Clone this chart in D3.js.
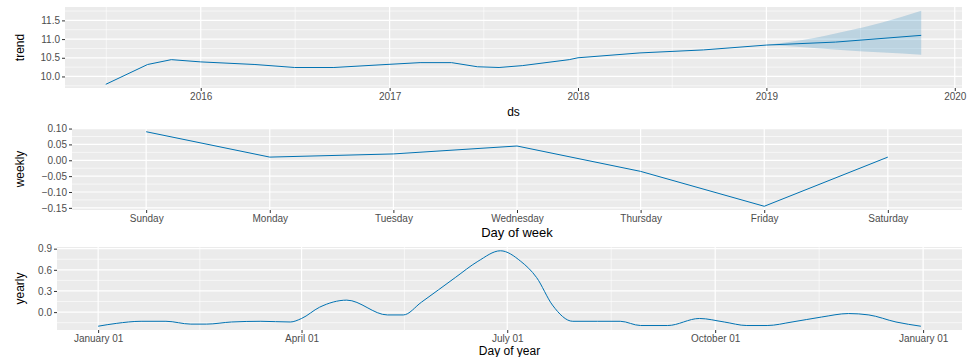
<!DOCTYPE html>
<html>
<head>
<meta charset="utf-8">
<script src="https://cdn.jsdelivr.net/npm/d3@7"></script>
<style>
  body { margin: 0; background: #fff; }
  svg text { font-family: "Liberation Sans", Arial, sans-serif; }
</style>
</head>
<body>
<svg id="chart" width="972" height="357"></svg>
<script>
// trend component (history + forecast)
const trendDates = ['2015-07-01', '2015-09-20', '2015-11-05', '2016-01-01', '2016-04-15', '2016-07-01',
  '2016-09-15', '2016-12-25', '2017-03-01', '2017-05-01', '2017-06-20', '2017-08-01', '2017-09-15',
  '2017-12-15', '2018-01-01', '2018-05-01', '2018-09-01', '2019-01-01', '2019-05-15', '2019-10-28']
const trendValues = [9.79, 10.32, 10.45, 10.39, 10.32, 10.24, 10.24, 10.32, 10.37, 10.37, 10.26, 10.24,
  10.29, 10.45, 10.5, 10.63, 10.71, 10.84, 10.92, 11.1]
// uncertainty interval of the forecast part
const bandDates = ['2019-01-01', '2019-03-15', '2019-06-01', '2019-08-15', '2019-10-28']
const bandUpper = [10.84, 10.98, 11.2, 11.45, 11.76]
const bandLower = [10.84, 10.78, 10.7, 10.64, 10.58]
const trendTicks = ['2016-01-01', '2017-01-01', '2018-01-01', '2019-01-01', '2020-01-01']
const trendYTicks = [10.0, 10.5, 11.0, 11.5]

// weekly component
const weekDays = ['Sunday', 'Monday', 'Tuesday', 'Wednesday', 'Thursday', 'Friday', 'Saturday']
const weeklyValues = [0.09, 0.01, 0.02, 0.045, -0.035, -0.145, 0.01]
const weeklyYTicks = [-0.15, -0.10, -0.05, 0.00, 0.05, 0.10]

// yearly component
const yearlyDates = ['2017-01-01', '2017-01-09', '2017-01-20', '2017-01-31', '2017-02-11', '2017-02-18',
  '2017-03-01', '2017-03-14', '2017-03-27', '2017-04-01', '2017-04-09', '2017-04-21', '2017-05-09',
  '2017-05-16', '2017-05-24', '2017-06-08', '2017-06-18', '2017-06-28', '2017-07-07', '2017-07-14',
  '2017-07-21', '2017-07-30', '2017-08-10', '2017-08-20', '2017-08-29', '2017-09-10', '2017-09-24',
  '2017-10-05', '2017-10-15', '2017-10-24', '2017-11-04', '2017-11-17', '2017-11-29', '2017-12-08',
  '2017-12-20', '2017-12-31']
const yearlyValues = [-0.2, -0.16, -0.13, -0.13, -0.17, -0.17, -0.14, -0.13, -0.14, -0.09, 0.07, 0.17,
  -0.04, -0.04, 0.14, 0.49, 0.72, 0.87, 0.72, 0.49, 0.1, -0.13, -0.13, -0.13, -0.19, -0.19, -0.09,
  -0.14, -0.19, -0.19, -0.14, -0.07, -0.02, -0.04, -0.14, -0.2]
const yearlyTicks = ['2017-01-01', '2017-04-01', '2017-07-01', '2017-10-01', '2018-01-01']
const yearlyYTicks = [0.0, 0.3, 0.6, 0.9]

const parse = d3.timeParse('%Y-%m-%d')
const svg = d3.select('#chart')
const BLUE = '#0072B2'

// ggplot style 5% expansion (works for numbers and dates)
function expand (ext, mult) {
  const lo = +ext[0], hi = +ext[1]
  const pad = (hi - lo) * mult
  return [lo - pad, hi + pad]
}

function midpoints (vals) {
  const out = []
  for (let i = 0; i < vals.length - 1; i++) out.push((+vals[i] + +vals[i + 1]) / 2)
  return out
}

function panelBase (box) {
  const g = svg.append('g')
  g.append('rect').attr('x', box.left).attr('y', box.top)
    .attr('width', box.right - box.left).attr('height', box.bottom - box.top)
    .attr('fill', '#EBEBEB')
  return g
}

function hGrid (g, box, y, major, minor) {
  g.selectAll(null).data(minor.filter(v => y(v) > box.top && y(v) < box.bottom)).enter().append('line')
    .attr('x1', box.left).attr('x2', box.right).attr('y1', d => y(d)).attr('y2', d => y(d))
    .attr('stroke', '#fff').attr('stroke-width', 0.6)
  g.selectAll(null).data(major).enter().append('line')
    .attr('x1', box.left).attr('x2', box.right).attr('y1', d => y(d)).attr('y2', d => y(d))
    .attr('stroke', '#fff').attr('stroke-width', 1.2)
}

function vGrid (g, box, x, major, minor) {
  g.selectAll(null).data(minor.filter(v => x(v) > box.left && x(v) < box.right)).enter().append('line')
    .attr('y1', box.top).attr('y2', box.bottom).attr('x1', d => x(d)).attr('x2', d => x(d))
    .attr('stroke', '#fff').attr('stroke-width', 0.6)
  g.selectAll(null).data(major.filter(v => x(v) >= box.left && x(v) <= box.right)).enter().append('line')
    .attr('y1', box.top).attr('y2', box.bottom).attr('x1', d => x(d)).attr('x2', d => x(d))
    .attr('stroke', '#fff').attr('stroke-width', 1.2)
}

function axes (box, x, y, xTicks, yTicks, xFmt, yFmt, xTitle, yTitle, titleY, titleSize) {
  const ya = svg.append('g').attr('transform', 'translate(' + box.left + ',0)')
    .call(d3.axisLeft(y).tickValues(yTicks).tickFormat(yFmt).tickSize(3).tickPadding(2))
  const xa = svg.append('g').attr('transform', 'translate(0,' + box.bottom + ')')
    .call(d3.axisBottom(x).tickValues(xTicks).tickFormat(xFmt).tickSize(3).tickPadding(2))
  ;[ya, xa].forEach(a => {
    a.select('.domain').remove()
    a.selectAll('.tick line').attr('stroke', '#333')
    a.selectAll('.tick text').attr('fill', '#4D4D4D').style('font-size', '10px')
  })
  svg.append('text').attr('x', (box.left + box.right) / 2).attr('y', titleY)
    .attr('text-anchor', 'middle').style('font-size', titleSize).attr('fill', '#000').text(xTitle)
  svg.append('text').attr('transform', 'translate(' + 24 + ',' + (box.top + box.bottom) / 2 + ') rotate(-90)')
    .attr('text-anchor', 'middle').style('font-size', '12px').attr('fill', '#000').text(yTitle)
}

/* Panel 1 : trend (piecewise linear) */
{
  const box = { left: 65, right: 962, top: 7, bottom: 88 }
  const dates = trendDates.map(parse)
  const x = d3.scaleTime().domain(expand(d3.extent(dates), 0.05)).range([box.left, box.right])
  const y = d3.scaleLinear()
    .domain(expand([d3.min(trendValues), d3.max(bandUpper)], 0.05)).range([box.bottom, box.top])
  const g = panelBase(box)
  const ticks = trendTicks.map(parse)
  hGrid(g, box, y, trendYTicks, [9.75].concat(midpoints(trendYTicks), [11.75]))
  vGrid(g, box, x, ticks, [parse('2015-07-02')].concat(midpoints(ticks).map(t => new Date(t))))
  const band = bandDates.map((d, i) => ({ date: parse(d), lo: bandLower[i], hi: bandUpper[i] }))
  g.append('path').datum(band)
    .attr('d', d3.area().x(d => x(d.date)).y0(d => y(d.lo)).y1(d => y(d.hi)).curve(d3.curveMonotoneX))
    .attr('fill', BLUE).attr('fill-opacity', 0.2)
  g.append('path').datum(dates.map((d, i) => [d, trendValues[i]]))
    .attr('d', d3.line().x(d => x(d[0])).y(d => y(d[1])))
    .attr('fill', 'none').attr('stroke', BLUE).attr('stroke-width', 1)
  axes(box, x, y, ticks, trendYTicks, d3.timeFormat('%Y'), d3.format('.1f'), 'ds', 'trend', 116, '12px')
}

/* Panel 2 : weekly */
{
  const box = { left: 72, right: 962, top: 128, bottom: 210 }
  const x = d3.scalePoint().domain(weekDays).range([box.left, box.right]).padding(0.6)
  const y = d3.scaleLinear().domain(expand(d3.extent(weeklyValues), 0.05)).range([box.bottom, box.top])
  const g = panelBase(box)
  hGrid(g, box, y, weeklyYTicks, midpoints(weeklyYTicks).concat([0.125, -0.175]))
  vGrid(g, box, x, weekDays, [])
  g.append('path').datum(weekDays.map((d, i) => [d, weeklyValues[i]]))
    .attr('d', d3.line().x(d => x(d[0])).y(d => y(d[1])))
    .attr('fill', 'none').attr('stroke', BLUE).attr('stroke-width', 1)
  axes(box, x, y, weekDays, weeklyYTicks, d => d, d3.format('.2f'), 'Day of week', 'weekly', 237, '13px')
}

/* Panel 3 : yearly */
{
  const box = { left: 57, right: 962, top: 247, bottom: 330 }
  const dates = yearlyDates.map(parse)
  const x = d3.scaleTime().domain(expand(d3.extent(dates), 0.05)).range([box.left, box.right])
  const y = d3.scaleLinear().domain(expand(d3.extent(yearlyValues), 0.05)).range([box.bottom, box.top])
  const g = panelBase(box)
  const ticks = yearlyTicks.map(parse)
  hGrid(g, box, y, yearlyYTicks, [-0.15].concat(midpoints(yearlyYTicks)))
  vGrid(g, box, x, ticks, midpoints(ticks).map(t => new Date(t)))
  g.append('path').datum(dates.map((d, i) => [d, yearlyValues[i]]))
    .attr('d', d3.line().x(d => x(d[0])).y(d => y(d[1])).curve(d3.curveMonotoneX))
    .attr('fill', 'none').attr('stroke', BLUE).attr('stroke-width', 1)
  axes(box, x, y, ticks, yearlyYTicks, d3.timeFormat('%B %d'), d3.format('.1f'), 'Day of year', 'yearly', 354.5, '12px')
}
</script>
</body>
</html>
